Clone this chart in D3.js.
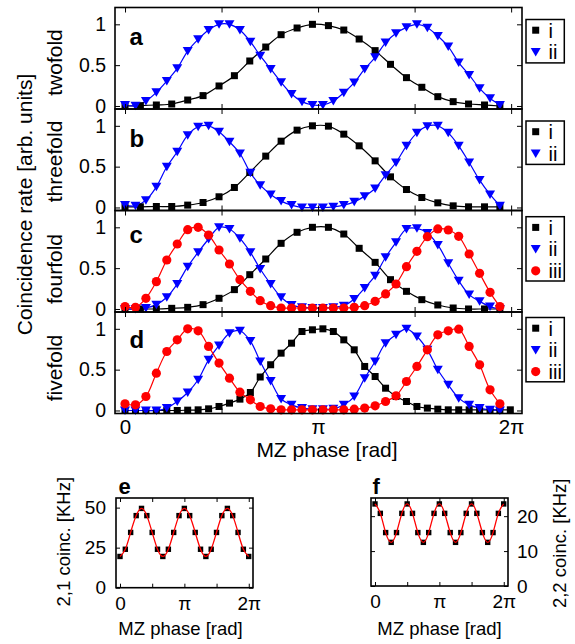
<!DOCTYPE html>
<html>
<head>
<meta charset="utf-8">
<script src="https://cdnjs.cloudflare.com/ajax/libs/d3/7.8.5/d3.min.js"></script>
<style>
  body { margin: 0; background: #fff; }
  svg { font-family: "Liberation Sans", Arial, sans-serif; }
</style>
</head>
<body>
<div id="chart"></div>
<script>
// ---- data ----
// phase grids [rad]
const phase25 = [0, 0.25, 0.51, 0.76, 1.02, 1.27, 1.53, 1.78, 2.03, 2.29, 2.54, 2.80, 3.05,
  3.31, 3.56, 3.81, 4.07, 4.32, 4.58, 4.83, 5.09, 5.34, 5.59, 5.85, 6.10];
const phase37 = [0, 0.17, 0.34, 0.51, 0.68, 0.85, 1.02, 1.19, 1.36, 1.53, 1.70, 1.87, 2.04,
  2.20, 2.37, 2.54, 2.71, 2.88, 3.05, 3.22, 3.39, 3.56, 3.73, 3.90, 4.07, 4.24, 4.41, 4.58,
  4.75, 4.92, 5.09, 5.26, 5.43, 5.60, 5.77, 5.94, 6.10];
const phase38 = phase37.concat([6.27]);
const phaseEF = [0, 0.26, 0.52, 0.79, 1.05, 1.31, 1.57, 1.83, 2.09, 2.36, 2.62, 2.88, 3.14,
  3.40, 3.67, 3.93, 4.19, 4.45, 4.71, 4.97, 5.24, 5.50, 5.76, 6.02, 6.28];

// a: twofold
const twoI = [0, 0.004, 0.012, 0.024, 0.073, 0.127, 0.245, 0.371, 0.551, 0.722, 0.873, 0.955,
  1.0, 0.984, 0.93, 0.82, 0.678, 0.51, 0.347, 0.229, 0.114, 0.053, 0.024, 0.012, 0];
const twoII = [0.012, 0.004, 0.061, 0.167, 0.306, 0.461, 0.673, 0.816, 0.931, 1.0, 1.0, 0.93,
  0.788, 0.616, 0.453, 0.29, 0.147, 0.053, 0.012, 0.012, 0.061, 0.163, 0.286, 0.453, 0.596,
  0.776, 0.89, 0.963, 1.0, 0.959, 0.857, 0.727, 0.531, 0.38, 0.216, 0.094, 0.012];
// b: threefold
const threeI = [0.008, 0.008, 0.012, 0.012, 0.029, 0.061, 0.131, 0.245, 0.429, 0.629, 0.812,
  0.947, 1.0, 0.996, 0.898, 0.755, 0.571, 0.375, 0.22, 0.122, 0.057, 0.02, 0.008, 0.008, 0.008];
const threeII = [0.029, 0.02, 0.09, 0.253, 0.498, 0.682, 0.886, 0.988, 1.0, 0.927, 0.804,
  0.661, 0.424, 0.273, 0.159, 0.078, 0.029, 0, 0, 0, 0.008, 0.029, 0.069, 0.139, 0.233, 0.396,
  0.551, 0.755, 0.914, 0.996, 1.0, 0.914, 0.755, 0.551, 0.335, 0.159, 0.02];
// c: fourfold
const fourI = [0, 0, 0, 0.008, 0.02, 0.053, 0.131, 0.237, 0.42, 0.612, 0.804, 0.939, 1.0, 1.0,
  0.918, 0.743, 0.571, 0.359, 0.216, 0.114, 0.049, 0.012, 0, 0, 0];
const fourII = [0, 0, 0.012, 0.053, 0.143, 0.306, 0.518, 0.694, 0.857, 1.0, 0.98, 0.865, 0.694,
  0.49, 0.306, 0.143, 0.05, 0.02, 0.012, 0.012, 0.02, 0.041, 0.122, 0.257, 0.408, 0.633, 0.816,
  0.98, 0.988, 0.931, 0.784, 0.559, 0.347, 0.176, 0.094, 0.029, 0];
const fourIII = [0.029, 0.02, 0.131, 0.335, 0.6, 0.796, 0.971, 1.0, 0.906, 0.722, 0.551, 0.359,
  0.216, 0.102, 0.041, 0.012, 0.012, 0.012, 0.012, 0.012, 0.012, 0.012, 0.02, 0.041, 0.094,
  0.184, 0.306, 0.518, 0.706, 0.886, 0.98, 0.967, 0.89, 0.673, 0.437, 0.204, 0.029];
// d: fivefold
const fiveI = [0, 0, 0, 0, 0, 0, 0.004, 0.008, 0.02, 0.049, 0.09, 0.139, 0.22, 0.41, 0.56, 0.702,
  0.824, 0.967, 0.988, 1.0, 0.967, 0.865, 0.743, 0.539, 0.416, 0.273, 0.171, 0.11, 0.049, 0.029,
  0.016, 0.008, 0.008, 0.008, 0.008, 0.008, 0.008, 0.008];
const fiveII = [0, 0, 0, 0, 0.029, 0.11, 0.22, 0.376, 0.62, 0.796, 0.947, 0.976, 0.85, 0.6, 0.36,
  0.14, 0.069, 0.029, 0.016, 0.016, 0.02, 0.069, 0.171, 0.396, 0.6, 0.824, 0.927, 1.0, 0.906,
  0.743, 0.498, 0.314, 0.151, 0.069, 0.029, 0.008, 0];
const fiveIII = [0.082, 0.069, 0.171, 0.457, 0.722, 0.865, 1.0, 0.976, 0.784, 0.58, 0.396, 0.224,
  0.131, 0.049, 0.02, 0.008, 0.008, 0.008, 0.008, 0.008, 0.008, 0.008, 0.016, 0.029, 0.057, 0.11,
  0.18, 0.355, 0.539, 0.743, 0.927, 0.976, 0.996, 0.784, 0.559, 0.253, 0.082];

// e, f: coincidences [KHz]
const coinc21 = [19.5, 24, 34.5, 45, 49.5, 45, 34.5, 24, 19.5, 24, 34.5, 45, 49.5, 45, 34.5, 24,
  19.5, 24, 34.5, 45, 49.5, 45, 34.5, 24, 19.5];
const coinc22 = [23.5, 20.8, 15.3, 12.5, 15.3, 20.8, 23.5, 20.8, 15.3, 12.5, 15.3, 20.8, 23.5,
  20.8, 15.3, 12.5, 15.3, 20.8, 23.5, 20.8, 15.3, 12.5, 15.3, 20.8, 23.5];

// ticks
const phaseTicks = [0, Math.PI / 2, Math.PI, 3 * Math.PI / 2, 2 * Math.PI];
const phaseTickLabels = ["0", "", "\u03c0", "", "2\u03c0"];
const rateTicks = [0, 0.5, 1];
const ticksE = [0, 25, 50];
const ticksF = [0, 10, 20];
const seriesNames = ["i", "ii", "iii"];

// ---- svg ----
const svg = d3.select("#chart").append("svg")
  .attr("width", 575).attr("height", 644);

const colors = ["#000000", "#0000ff", "#ff0000"];
const shapes = ["square", "triangle", "circle"];

function marker(g, shape, cx, cy, color) {
  if (shape === "square") {
    g.append("rect").attr("x", cx - 3.5).attr("y", cy - 3.5)
      .attr("width", 7).attr("height", 7).attr("fill", color);
  } else if (shape === "triangle") {
    g.append("path")
      .attr("d", `M${cx - 5},${cy - 4}L${cx + 5},${cy - 4}L${cx},${cy + 4.5}Z`)
      .attr("fill", color);
  } else {
    g.append("circle").attr("cx", cx).attr("cy", cy).attr("r", 4.6).attr("fill", color);
  }
}

function styleAxis(g, size) {
  g.select(".domain").remove();
  g.selectAll(".tick line").attr("stroke", "#000").attr("stroke-width", 1);
  g.selectAll("text").attr("font-size", size).attr("fill", "#000")
    .attr("font-family", "Liberation Sans, Arial, sans-serif");
}

// ---- main panels a-d ----
const xMain = d3.scaleLinear().domain([-0.163, 6.46]).range([115, 522]);
const H = 101.5;

const panels = [
  { top: 7.5, letter: "a", letterY: 45, fold: "twofold", foldY: 62.5, legTop: 19.5,
    series: [[phase25, twoI], [phase37, twoII]] },
  { top: 109, letter: "b", letterY: 146.5, fold: "threefold", foldY: 161.5, legTop: 121,
    series: [[phase25, threeI], [phase37, threeII]] },
  { top: 210.5, letter: "c", letterY: 243, fold: "fourfold", foldY: 269, legTop: 216.7,
    series: [[phase25, fourI], [phase37, fourII], [phase37, fourIII]] },
  { top: 312, letter: "d", letterY: 348, fold: "fivefold", foldY: 368, legTop: 317.5,
    series: [[phase38, fiveI], [phase37, fiveII], [phase37, fiveIII]] }
];

const line = d3.line().curve(d3.curveCatmullRom.alpha(0.5));

panels.forEach((p, pi) => {
  const y = d3.scaleLinear().domain([-0.037, 1.206]).range([p.top + H, p.top]);
  const g = svg.append("g");

  // fit lines then markers
  p.series.forEach(([xs, ys], si) => {
    g.append("path")
      .attr("d", line(xs.map((v, i) => [xMain(v), y(ys[i])])))
      .attr("fill", "none").attr("stroke", colors[si]).attr("stroke-width", 1.2);
  });
  p.series.forEach(([xs, ys], si) => {
    xs.forEach((v, i) => marker(g, shapes[si], xMain(v), y(ys[i]), colors[si]));
  });

  // axes (ticks inward on all four sides)
  const left = g.append("g").attr("transform", "translate(115,0)")
    .call(d3.axisLeft(y).tickValues(rateTicks).tickSize(-5).tickPadding(9)
      .tickFormat(d3.format("")));
  styleAxis(left, 19.5);
  const right = g.append("g").attr("transform", "translate(522,0)")
    .call(d3.axisRight(y).tickValues(rateTicks).tickSize(-5).tickFormat(""));
  styleAxis(right, 19.5);
  const topAx = g.append("g").attr("transform", `translate(0,${p.top})`)
    .call(d3.axisTop(xMain).tickValues(phaseTicks).tickSize(-5).tickFormat(""));
  styleAxis(topAx, 19.5);
  const bottom = g.append("g").attr("transform", `translate(0,${p.top + H})`)
    .call(d3.axisBottom(xMain).tickValues(phaseTicks).tickSize(-5).tickPadding(6)
      .tickFormat((d, i) => pi === 3 ? phaseTickLabels[i] : ""));
  styleAxis(bottom, 20.5);

  // frame
  g.append("rect").attr("x", 115).attr("y", p.top).attr("width", 407).attr("height", H)
    .attr("fill", "none").attr("stroke", "#000").attr("stroke-width", 1.6);

  // panel letter and row label
  g.append("text").attr("x", 129.5).attr("y", p.letterY)
    .attr("font-size", 24).attr("font-weight", "bold").text(p.letter);
  g.append("text").attr("transform", `translate(61.5,${p.foldY}) rotate(-90)`)
    .attr("text-anchor", "middle").attr("font-size", 21).text(p.fold);

  // legend
  const n = p.series.length;
  const legH = n === 2 ? 43.4 : 64.3;
  const leg = g.append("g");
  leg.append("rect").attr("x", 526).attr("y", p.legTop).attr("width", 38.3).attr("height", legH)
    .attr("fill", "#fff").attr("stroke", "#000").attr("stroke-width", 1.5);
  for (let si = 0; si < n; si++) {
    const cy = p.legTop + 10.7 + si * 21.7;
    marker(leg, shapes[si], 535.7, cy, colors[si]);
    leg.append("text").attr("x", 548.5).attr("y", cy + 7.3)
      .attr("font-size", 20).text(seriesNames[si]);
  }
});

svg.append("text").attr("x", 327).attr("y", 457).attr("text-anchor", "middle")
  .attr("font-size", 21).text("MZ phase [rad]");
svg.append("text").attr("transform", "translate(32,204.5) rotate(-90)")
  .attr("text-anchor", "middle").attr("font-size", 21).text("Coincidence rate [arb. units]");

// ---- small panels e, f ----
function drawSmall(cfg) {
  const x = d3.scaleLinear().domain([-0.195, 6.49]).range([cfg.x0, cfg.x0 + 137]);
  const y = d3.scaleLinear().domain(cfg.yDomain).range([cfg.bottom, 498]);
  const g = svg.append("g");
  const xy = cfg.values.map((v, i) => [x(phaseEF[i]), y(v)]);

  cfg.values.forEach((v, i) => {
    g.append("rect").attr("x", x(phaseEF[i]) - 2.7).attr("y", y(v) - 2.7)
      .attr("width", 5.4).attr("height", 5.4).attr("fill", "#000");
  });
  g.append("path").attr("d", d3.line().curve(d3.curveNatural)(xy))
    .attr("fill", "none").attr("stroke", "#ff0000").attr("stroke-width", 1.3);

  const yl = g.append("g").attr("transform", `translate(${cfg.x0},0)`)
    .call(d3.axisLeft(y).tickValues(cfg.ticks).tickSize(-4).tickPadding(10)
      .tickFormat(cfg.labelsRight ? "" : d3.format("")));
  styleAxis(yl, 19);
  const yr = g.append("g").attr("transform", `translate(${cfg.x0 + 137},0)`)
    .call(d3.axisRight(y).tickValues(cfg.ticks).tickSize(-4).tickPadding(9)
      .tickFormat(cfg.labelsRight ? d3.format("") : ""));
  styleAxis(yr, 19);
  const xt = g.append("g").attr("transform", "translate(0,498)")
    .call(d3.axisTop(x).tickValues(phaseTicks).tickSize(-4).tickFormat(""));
  styleAxis(xt, 19);
  const xb = g.append("g").attr("transform", `translate(0,${cfg.bottom})`)
    .call(d3.axisBottom(x).tickValues(phaseTicks).tickSize(-4).tickPadding(8.5)
      .tickFormat((d, i) => phaseTickLabels[i]));
  styleAxis(xb, 19);

  g.append("rect").attr("x", cfg.x0).attr("y", 498).attr("width", 137)
    .attr("height", cfg.bottom - 498)
    .attr("fill", "none").attr("stroke", "#000").attr("stroke-width", 1.6);

  g.append("text").attr("x", cfg.x0 + cfg.letterDx).attr("y", 493.5)
    .attr("font-size", 22).attr("font-weight", "bold").text(cfg.letter);
  g.append("text").attr("x", cfg.labelCx).attr("y", 635).attr("text-anchor", "middle")
    .attr("font-size", 18.5).text("MZ phase [rad]");
  g.append("text").attr("transform", `translate(${cfg.labelX},${cfg.labelY}) rotate(-90)`)
    .attr("text-anchor", "middle").attr("font-size", 18.5).text(cfg.ylabel);
}

drawSmall({ x0: 116, bottom: 587.7, yDomain: [0, 56], values: coinc21, ticks: ticksE,
  labelsRight: false, letter: "e", letterDx: 2.5, ylabel: "2,1 coinc. [KHz]",
  labelX: 70, labelY: 541.7, labelCx: 180.5 });
drawSmall({ x0: 371, bottom: 586, yDomain: [0, 25.2], values: coinc22, ticks: ticksF,
  labelsRight: true, letter: "f", letterDx: 1.5, ylabel: "2,2 coinc. [KHz]",
  labelX: 566, labelY: 543.3, labelCx: 439.5 });
</script>
</body>
</html>
